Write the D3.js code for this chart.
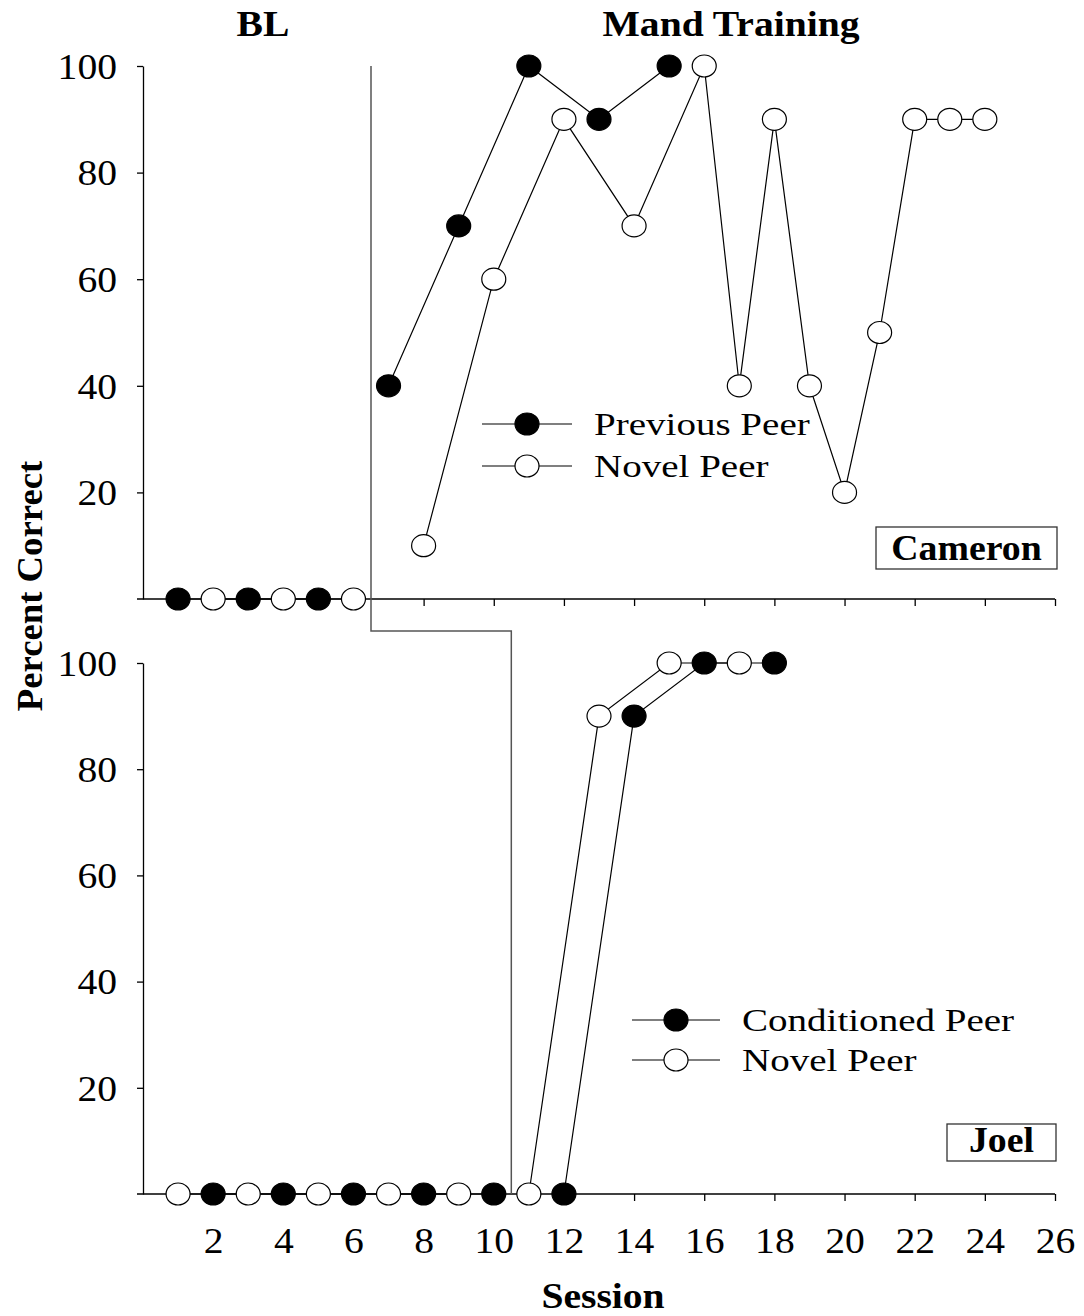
<!DOCTYPE html>
<html>
<head>
<meta charset="utf-8">
<script src="https://cdn.jsdelivr.net/npm/d3@7"></script>
<style>
  body { margin: 0; background: #fff; }
  svg text { font-family: "Liberation Serif", "Times New Roman", Times, serif; fill: #000; }
</style>
</head>
<body>
<svg id="chart" width="1084" height="1316"></svg>
<script>
// Cameron (top panel)
var camPrevSessions = [1, 3, 5, 7, 9, 11, 13, 15]
var camPrevValues = [0, 0, 0, 40, 70, 100, 90, 100]
var camNovelSessions = [2, 4, 6, 8, 10, 12, 14, 16, 17, 18, 19, 20, 21, 22, 23, 24]
var camNovelValues = [0, 0, 0, 10, 60, 90, 70, 100, 40, 90, 40, 20, 50, 90, 90, 90]
var camPhaseChange = 6.5

// Joel (bottom panel)
var joelCondSessions = [2, 4, 6, 8, 10, 12, 14, 16, 18]
var joelCondValues = [0, 0, 0, 0, 0, 0, 90, 100, 100]
var joelNovelSessions = [1, 3, 5, 7, 9, 11, 13, 15, 17]
var joelNovelValues = [0, 0, 0, 0, 0, 0, 90, 100, 100]
var joelPhaseChange = 10.5

var yTicks = [20, 40, 60, 80, 100]
var xTicks = [2, 4, 6, 8, 10, 12, 14, 16, 18, 20, 22, 24, 26]
var phaseLabels = ['BL', 'Mand Training']
var camLegend = ['Previous Peer', 'Novel Peer']
var joelLegend = ['Conditioned Peer', 'Novel Peer']
var participants = ['Cameron', 'Joel']

var svg = d3.select('#chart')
var rx = 12
var ry = 11

var x = d3.scaleLinear().domain([0, 26]).range([143, 1055])
var yTop = d3.scaleLinear().domain([0, 100]).range([599, 66])
var yBot = d3.scaleLinear().domain([0, 100]).range([1194, 663])

function zip (s, v) {
  return s.map(function (d, i) { return { s: d, v: v[i] } })
}

// break a series where it crosses the phase change line
function segments (pts, phase) {
  var before = pts.filter(function (d) { return d.s < phase })
  var after = pts.filter(function (d) { return d.s > phase })
  return [before, after].filter(function (a) { return a.length > 1 })
}

function drawPanel (y, withXLabels) {
  var g = svg.append('g')
  var yAxis = d3.axisLeft(y).tickValues(yTicks).tickSize(6).tickSizeOuter(0).tickPadding(0)
  var ya = g.append('g').attr('transform', 'translate(' + x(0) + ',0)').call(yAxis)
  ya.select('.domain').attr('stroke-width', 1.3)
  ya.selectAll('.tick line').attr('stroke-width', 1.3)
  ya.selectAll('.tick text')
    .attr('x', 0).attr('dy', '0.34em')
    .attr('transform', 'translate(-26,0) scale(1.1,1)')
    .style('font-size', '36px')

  var xAxis = d3.axisBottom(x).tickValues(xTicks).tickSize(7).tickSizeOuter(0).tickPadding(0)
  var xa = g.append('g').attr('transform', 'translate(0,' + y(0) + ')').call(xAxis)
  xa.select('.domain').attr('d', 'M' + (x(0) - 6) + ',0H' + x(26)).attr('stroke-width', 1.3)
  xa.selectAll('.tick line').attr('stroke-width', 1.3)
  if (withXLabels) {
    xa.selectAll('.tick text')
      .attr('y', 0).attr('dy', 0)
      .attr('transform', 'translate(0,59) scale(1.1,1)')
      .style('font-size', '36px')
  } else {
    xa.selectAll('.tick text').remove()
  }
  return g
}

function drawSeries (g, y, pts, phase) {
  var line = d3.line().x(function (d) { return x(d.s) }).y(function (d) { return y(d.v) })
  segments(pts, phase).forEach(function (seg) {
    g.append('path').attr('d', line(seg))
      .attr('fill', 'none').attr('stroke', '#000').attr('stroke-width', 1.2)
  })
}

function drawDots (g, y, pts, filled) {
  g.selectAll(null).data(pts).enter().append('ellipse')
    .attr('cx', function (d) { return x(d.s) })
    .attr('cy', function (d) { return y(d.v) })
    .attr('rx', rx).attr('ry', ry)
    .attr('fill', filled ? '#000' : '#fff')
    .attr('stroke', '#000').attr('stroke-width', 1.2)
}

function stretchedText (str, tx, ty, size, sx, bold, anchor) {
  return svg.append('text')
    .attr('transform', 'translate(' + tx + ',' + ty + ') scale(' + sx + ',1)')
    .attr('text-anchor', anchor || 'start')
    .style('font-size', size + 'px')
    .style('font-weight', bold ? 'bold' : 'normal')
    .text(str)
}

function drawLegend (labels, x0, x1, y0, step) {
  labels.forEach(function (t, i) {
    var yy = y0 + i * step
    svg.append('line').attr('x1', x0).attr('x2', x1).attr('y1', yy).attr('y2', yy)
      .attr('stroke', '#000').attr('stroke-width', 1.2)
    svg.append('ellipse').attr('cx', (x0 + x1) / 2).attr('cy', yy).attr('rx', rx).attr('ry', ry)
      .attr('fill', i === 0 ? '#000' : '#fff').attr('stroke', '#000').attr('stroke-width', 1.2)
    stretchedText(t, x1 + 22, yy + 10.5, 32, 1.22, false)
  })
}

function nameBox (str, bx, by, bw, bh) {
  svg.append('rect').attr('x', bx).attr('y', by).attr('width', bw).attr('height', bh)
    .attr('fill', '#fff').attr('stroke', '#333').attr('stroke-width', 1.3)
  stretchedText(str, bx + bw / 2, by + bh - 9.5, 35, 1.08, true, 'middle')
}

var topPanel = drawPanel(yTop, false)
var botPanel = drawPanel(yBot, true)

// phase change line
var midY = (yTop(0) + yBot(100)) / 2
svg.append('path')
  .attr('d', 'M' + x(camPhaseChange) + ',' + yTop(100) + 'V' + midY +
             'H' + x(joelPhaseChange) + 'V' + yBot(0))
  .attr('fill', 'none').attr('stroke', '#555').attr('stroke-width', 1.5)

var camPrev = zip(camPrevSessions, camPrevValues)
var camNovel = zip(camNovelSessions, camNovelValues)
var joelCond = zip(joelCondSessions, joelCondValues)
var joelNovel = zip(joelNovelSessions, joelNovelValues)

drawSeries(topPanel, yTop, camPrev, camPhaseChange)
drawSeries(topPanel, yTop, camNovel, camPhaseChange)
drawDots(topPanel, yTop, camPrev, true)
drawDots(topPanel, yTop, camNovel, false)

drawSeries(botPanel, yBot, joelCond, joelPhaseChange)
drawSeries(botPanel, yBot, joelNovel, joelPhaseChange)
drawDots(botPanel, yBot, joelCond, true)
drawDots(botPanel, yBot, joelNovel, false)

drawLegend(camLegend, 482, 572, 424, 42)
drawLegend(joelLegend, 632, 720, 1020, 40)

nameBox(participants[0], 876, 527, 181, 42)
nameBox(participants[1], 947, 1124, 109, 37)

// phase labels and axis titles
stretchedText(phaseLabels[0], 263, 36, 36, 1.1, true, 'middle')
stretchedText(phaseLabels[1], 731, 36, 36, 1.1, true, 'middle')
stretchedText('Session', 603, 1308, 36, 1.1, true, 'middle')
svg.append('text')
  .attr('transform', 'translate(42,586) rotate(-90) scale(1.02,1)')
  .attr('text-anchor', 'middle')
  .style('font-size', '36px').style('font-weight', 'bold')
  .text('Percent Correct')
</script>
</body>
</html>
